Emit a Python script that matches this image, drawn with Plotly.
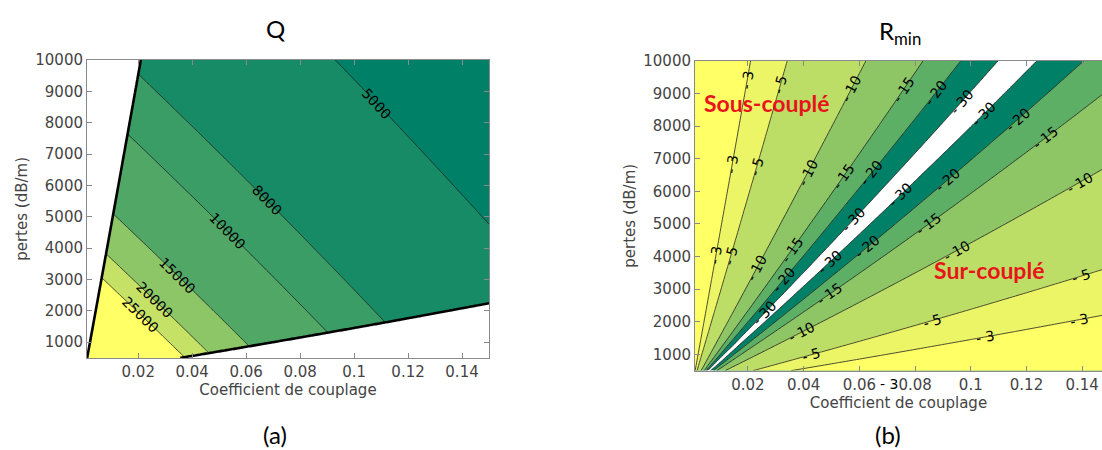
import numpy as np
import plotly.graph_objects as go

# ---------------- data ----------------
# grid of the two maps (coupling coefficient, propagation losses in dB/m)
coupling = np.linspace(0.001, 0.15, 150)
losses = np.linspace(500, 10000, 120)

# ring model parameters read/fitted from the picture
ring_length_m = 53.8e-6        # round-trip length
q_scale = 554.0                # pi * n_g * L / lambda

q_levels = [5000, 8000, 10000, 15000, 20000, 25000]
q_colors = ["#008066", "#178b66", "#3a9d66", "#51a866", "#8cc666", "#c5e266", "#ffff66"]

r_levels = [-30, -20, -15, -10, -5, -3]
r_colors = ["#ffffff", "#008066", "#5eaf66", "#8ec666", "#bdde66", "#ecf566", "#ffff66"]
mask_level = -3

x_tick_vals = [0.02, 0.04, 0.06, 0.08, 0.1, 0.12, 0.14]
x_tick_text = ["0.02", "0.04", "0.06", "0.08", "0.1", "0.12", "0.14"]
y_tick_vals = [1000, 2000, 3000, 4000, 5000, 6000, 7000, 8000, 9000, 10000]
y_tick_text = [str(v) for v in y_tick_vals]

# contour-label placement (level, approx. pixel position in the reference)
q_label_levels = [25000, 20000, 15000, 10000, 8000, 5000]
q_label_px = [(130, 323), (147, 305), (170, 280), (222, 232), (262, 200), (370, 103)]
r_label_levels = [-3, -5, -10, -15, -20, -30, -30, -20, -15, -10, -5, -3,
                  -3, -5, -10, -15, -20, -30, -30, -20, -15, -10, -5, -3,
                  -3, -5, -10, -15, -20, -30, -20, -15, -10, -5, -30]
r_label_px = [(738, 71), (766, 73), (843, 78), (892, 75), (928, 80), (954, 88),
              (978, 102), (1015, 110), (1040, 125), (1075, 170), (1078, 263), (1077, 305),
              (724, 157), (741, 157), (800, 163), (835, 166), (865, 163), (849, 212),
              (895, 185), (942, 168), (925, 215), (952, 238), (930, 310), (983, 323),
              (708, 250), (723, 250), (748, 260), (784, 240), (779, 273), (829, 257),
              (861, 236), (825, 285), (797, 321), (808, 344), (765, 311)]


# ---------------- model fields ----------------
def q_field(k, al):
    r = np.sqrt(1.0 - k)
    a = 10 ** (-al * ring_length_m / 20.0)
    ra = r * a
    return q_scale * np.sqrt(ra) / (1.0 - ra)


def r_field(k, al):
    r = np.sqrt(1.0 - k)
    a = 10 ** (-al * ring_length_m / 20.0)
    with np.errstate(divide="ignore"):
        return 20 * np.log10(np.abs(a - r) / (1.0 - r * a))


K, A = np.meshgrid(coupling, losses)
Q = q_field(K, A)
R = np.clip(r_field(K, A), -80, 0)


def level_index(z, levels):
    """monotone re-mapping so that the (non-uniform) levels become 0,1,2,..."""
    n = len(levels)
    idx = np.interp(z, levels, np.arange(n, dtype=float))
    lo = z < levels[0]
    hi = z > levels[-1]
    idx[lo] = (z[lo] - levels[0]) / (levels[1] - levels[0])
    idx[hi] = (n - 1) + (z[hi] - levels[-1]) / (levels[-1] - levels[-2])
    return idx


def discrete_scale(colors):
    n = len(colors) - 1
    return [[k / n, c] for k, c in enumerate(colors)]


W, H = 1102, 450
# panel geometry (pixels) and data extents
PANEL_A = dict(x0=87, x1=489, y0=52, y1=356, kmin=0.001, kmax=0.15, amin=500, amax=10000)
PANEL_B = dict(x0=695, x1=1102, y0=53, y1=369, kmin=0.001, kmax=0.1471, amin=500, amax=10000)


def px_to_data(px, py, p):
    k = p["kmin"] + (px - p["x0"]) / (p["x1"] - p["x0"]) * (p["kmax"] - p["kmin"])
    al = p["amax"] - (py - p["y0"]) / (p["y1"] - p["y0"]) * (p["amax"] - p["amin"])
    return k, al


def snap_label(fn, level, px, py, p, half=22, step=0.25):
    g = np.arange(-half, half + step, step)
    PX, PY = np.meshgrid(px + g, py + g)
    kk, aa = px_to_data(PX, PY, p)
    with np.errstate(invalid="ignore"):
        F = fn(kk, aa) - level
    pts = []
    for ax in (0, 1):
        f0 = F[:-1, :] if ax == 0 else F[:, :-1]
        f1 = F[1:, :] if ax == 0 else F[:, 1:]
        x0 = PX[:-1, :] if ax == 0 else PX[:, :-1]
        x1 = PX[1:, :] if ax == 0 else PX[:, 1:]
        y0 = PY[:-1, :] if ax == 0 else PY[:, :-1]
        y1 = PY[1:, :] if ax == 0 else PY[:, 1:]
        m = np.isfinite(f0) & np.isfinite(f1) & (np.sign(f0) != np.sign(f1))
        t = f0[m] / (f0[m] - f1[m])
        pts.append(np.c_[x0[m] + t * (x1[m] - x0[m]), y0[m] + t * (y1[m] - y0[m])])
    pts = np.vstack(pts)
    if len(pts) == 0:
        return None
    d = np.hypot(pts[:, 0] - px, pts[:, 1] - py)
    sx, sy = pts[np.argmin(d)]
    h = 0.5
    fx = (fn(*px_to_data(sx + h, sy, p)) - fn(*px_to_data(sx - h, sy, p))) / (2 * h)
    fy = (fn(*px_to_data(sx, sy + h, p)) - fn(*px_to_data(sx, sy - h, p))) / (2 * h)
    ang = np.degrees(np.arctan2(fx, -fy))  # tangent direction (-fy, fx)
    while ang > 90:
        ang -= 180
    while ang <= -90:
        ang += 180
    k, al = px_to_data(sx, sy, p)
    return float(k), float(al), float(ang)


LINE_COL = "#1e1e1e"
LABEL_FONT = dict(family="DejaVu Sans", size=14, color="black")
TICK_FONT = dict(family="DejaVu Sans", size=15, color="#444444")
AX_COL = "#8a8a8a"

fig = go.Figure()


def add_panel(z, levels, colors, xa, ya):
    n = len(levels)
    fig.add_trace(go.Contour(
        x=coupling, y=losses, z=level_index(z, levels), xaxis=xa, yaxis=ya,
        showscale=False, hoverinfo="skip", autocontour=False,
        contours=dict(start=0, end=n - 1, size=1, coloring="fill", showlines=False),
        colorscale=discrete_scale(colors), line=dict(width=0)))
    for lvl in levels:
        fig.add_trace(go.Contour(
            x=coupling, y=losses, z=z, xaxis=xa, yaxis=ya,
            showscale=False, hoverinfo="skip", autocontour=False,
            contours=dict(start=lvl, end=lvl, size=1, coloring="none", showlabels=False),
            line=dict(color=LINE_COL, width=0.8)))


# ---- (a) Q ----
add_panel(Q, q_levels, q_colors, "x", "y")
# masked area (resonance depth less than 3 dB)
fig.add_trace(go.Contour(
    x=coupling, y=losses, z=R, xaxis="x", yaxis="y", showscale=False, hoverinfo="skip",
    autocontour=False,
    contours=dict(start=mask_level, end=mask_level, size=1, coloring="fill", showlabels=False),
    colorscale=[[0, "rgba(255,255,255,0)"], [1, "rgb(255,255,255)"]],
    line=dict(color="black", width=2.6)))

# ---- (b) R_min ----
add_panel(R, r_levels, r_colors, "x2", "y2")


def axis_common():
    return dict(ticks="inside", ticklen=5, tickcolor=AX_COL, showline=True, linecolor=AX_COL,
                linewidth=1, showgrid=False, zeroline=False, tickfont=TICK_FONT)


TITLE_FONT = dict(family="DejaVu Sans", size=15, color="#444444")
pa, pb = PANEL_A, PANEL_B
xa = axis_common()
xa.update(domain=[pa["x0"] / W, pa["x1"] / W], range=[pa["kmin"], pa["kmax"]], tickvals=x_tick_vals,
          ticktext=x_tick_text, mirror="ticks", anchor="y",
          title=dict(text="Coefficient de couplage", font=TITLE_FONT, standoff=4))
ya = axis_common()
ya.update(domain=[1 - pa["y1"] / H, 1 - pa["y0"] / H], range=[pa["amin"], pa["amax"]], tickvals=y_tick_vals,
          ticktext=y_tick_text, mirror="ticks", anchor="x",
          title=dict(text="pertes (dB/m)", font=TITLE_FONT, standoff=4))
xa2 = axis_common()
xa2.update(domain=[pb["x0"] / W, pb["x1"] / W], range=[pb["kmin"], pb["kmax"]], tickvals=x_tick_vals,
           ticktext=x_tick_text, mirror="ticks", anchor="y2",
           title=dict(text="Coefficient de couplage", font=TITLE_FONT, standoff=4))
ya2 = axis_common()
ya2.update(domain=[1 - pb["y1"] / H, 1 - pb["y0"] / H], range=[pb["amin"], pb["amax"]], tickvals=y_tick_vals,
           ticktext=y_tick_text, mirror=False, anchor="x2",
           title=dict(text="pertes (dB/m)", font=TITLE_FONT, standoff=4))

CAP_FONT = dict(family="Lato", size=24, color="black")
RED_FONT = dict(family="Lato", size=23, color="#e8141c")


def ann(text, x, y, xref="paper", yref="paper", font=CAP_FONT, angle=0):
    return dict(text=text, x=x, y=y, xref=xref, yref=yref, showarrow=False, font=font,
                xanchor="center", yanchor="middle", textangle=angle)


def fmt_level(v):
    return f"- {abs(v)}" if v < 0 else str(v)


annotations = [
    ann("Q", 275 / W, 1 - 20 / H),
    ann("R<sub>min</sub>", 900 / W, 1 - 24 / H),
    ann("(a)", 275 / W, 1 - 434 / H),
    ann("(b)", 888 / W, 1 - 434 / H),
]

for lvl, (px, py) in zip(q_label_levels, q_label_px):
    s = snap_label(q_field, lvl, px, py, PANEL_A)
    if s:
        annotations.append(ann(fmt_level(lvl), s[0], s[1], "x", "y", LABEL_FONT, s[2]))
for lvl, (px, py) in zip(r_label_levels, r_label_px):
    s = snap_label(r_field, lvl, px, py, PANEL_B)
    if s:
        annotations.append(ann(fmt_level(lvl), s[0], s[1], "x2", "y2", LABEL_FONT, s[2]))

annotations += [
    ann("<b>Sous-couplé</b>", 0.0268, 8720, "x2", "y2", RED_FONT),
    ann("<b>Sur-couplé</b>", 0.1065, 3600, "x2", "y2", RED_FONT),
    ann("- 3", 0.0705, 1 - 383 / H, "x2", "paper", dict(family="DejaVu Sans", size=14, color="black")),
]

fig.update_layout(
    width=W, height=H, margin=dict(l=0, r=0, t=0, b=0),
    paper_bgcolor="white", plot_bgcolor="white", showlegend=False,
    xaxis=xa, yaxis=ya, xaxis2=xa2, yaxis2=ya2, annotations=annotations,
)

fig.write_html("out.html", config={"displayModeBar": False},
               post_script="document.body.style.margin='0px';")
